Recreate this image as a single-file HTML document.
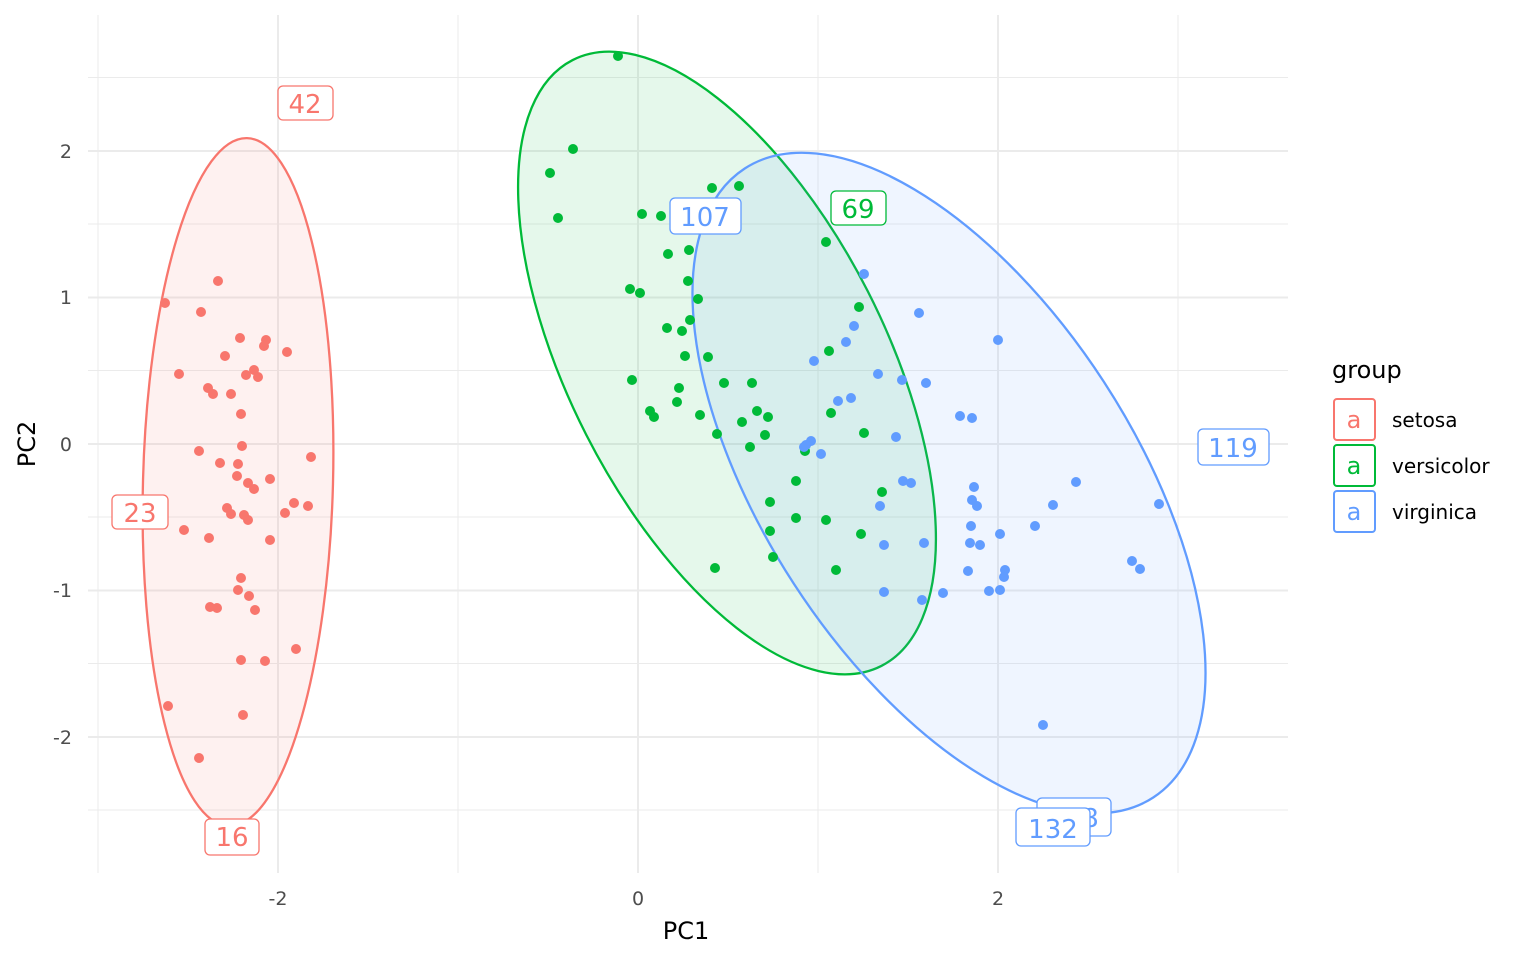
<!DOCTYPE html>
<html><head><meta charset="utf-8"><style>body{margin:0;background:#fff}svg{display:block}text{font-family:"DejaVu Sans","Liberation Sans",sans-serif}</style></head><body>
<svg width="1536" height="960" xmlns="http://www.w3.org/2000/svg">
<g stroke="#ebebeb" stroke-width="1">
<line x1="98" y1="15" x2="98" y2="873"/><line x1="458" y1="15" x2="458" y2="873"/><line x1="818" y1="15" x2="818" y2="873"/><line x1="1178" y1="15" x2="1178" y2="873"/>
<line x1="88" y1="77.5" x2="1288" y2="77.5"/><line x1="88" y1="224" x2="1288" y2="224"/><line x1="88" y1="370.5" x2="1288" y2="370.5"/><line x1="88" y1="517" x2="1288" y2="517"/><line x1="88" y1="663.5" x2="1288" y2="663.5"/><line x1="88" y1="810" x2="1288" y2="810"/>
</g>
<g stroke="#ebebeb" stroke-width="2">
<line x1="278" y1="15" x2="278" y2="873"/><line x1="638" y1="15" x2="638" y2="873"/><line x1="998" y1="15" x2="998" y2="873"/>
<line x1="88" y1="151" x2="1288" y2="151"/><line x1="88" y1="297.5" x2="1288" y2="297.5"/><line x1="88" y1="444" x2="1288" y2="444"/><line x1="88" y1="590.5" x2="1288" y2="590.5"/><line x1="88" y1="737" x2="1288" y2="737"/>
</g>
<ellipse cx="238" cy="482" rx="95" ry="344" transform="rotate(1.5 238 482)" fill="#F8766D" fill-opacity="0.1" stroke="#F8766D" stroke-width="2.3"/>
<ellipse cx="727" cy="363" rx="340" ry="158" transform="rotate(63 727 363)" fill="#00BA38" fill-opacity="0.1" stroke="#00BA38" stroke-width="2.3"/>
<ellipse cx="949" cy="483" rx="375" ry="185" transform="rotate(57 949 483)" fill="#619CFF" fill-opacity="0.1" stroke="#619CFF" stroke-width="2.3"/>
<g fill="#F8766D" id="s"></g><g fill="#00BA38" id="v"></g><g fill="#619CFF" id="g"></g>
<g font-size="26" text-anchor="middle" stroke-width="1.3">
<rect x="278" y="86" width="55" height="34" rx="5" fill="#fff" stroke="#F8766D"/><text x="305" y="113" fill="#F8766D">42</text>
<rect x="112" y="495" width="56" height="34" rx="5" fill="#fff" stroke="#F8766D"/><text x="140" y="522" fill="#F8766D">23</text>
<rect x="205" y="819" width="54" height="36" rx="5" fill="#fff" stroke="#F8766D"/><text x="232" y="846" fill="#F8766D">16</text>
<rect x="831" y="191" width="55" height="34" rx="5" fill="#fff" stroke="#00BA38"/><text x="858" y="218" fill="#00BA38">69</text>
<rect x="670" y="198" width="71" height="36" rx="5" fill="#fff" stroke="#619CFF"/><text x="705" y="226" fill="#619CFF">107</text>
<rect x="1198" y="429" width="71" height="36" rx="5" fill="#fff" stroke="#619CFF"/><text x="1233" y="457" fill="#619CFF">119</text>
<rect x="1037" y="798" width="74" height="38" rx="5" fill="#fff" stroke="#619CFF"/><text x="1074" y="827" fill="#619CFF">118</text>
<rect x="1016" y="808" width="74" height="38" rx="5" fill="#fff" stroke="#619CFF"/><text x="1053" y="838" fill="#619CFF">132</text>
</g>
<g font-size="19" fill="#4d4d4d">
<g text-anchor="middle"><text x="278" y="905">-2</text><text x="638" y="905">0</text><text x="998" y="905">2</text></g>
<g text-anchor="end"><text x="72" y="158">2</text><text x="72" y="304">1</text><text x="72" y="451">0</text><text x="72" y="597">-1</text><text x="72" y="744">-2</text></g>
</g>
<text x="686" y="939" font-size="24" text-anchor="middle">PC1</text>
<text transform="translate(35 444) rotate(-90)" font-size="24" text-anchor="middle">PC2</text>
<text x="1332" y="378" font-size="24">group</text>
<g stroke-width="2" font-size="24" text-anchor="middle">
<rect x="1334" y="399" width="41" height="41" rx="3" fill="#fff" stroke="#F8766D"/><text x="1354" y="428" fill="#F8766D">a</text>
<rect x="1334" y="445" width="41" height="41" rx="3" fill="#fff" stroke="#00BA38"/><text x="1354" y="474" fill="#00BA38">a</text>
<rect x="1334" y="491" width="41" height="41" rx="3" fill="#fff" stroke="#619CFF"/><text x="1354" y="520" fill="#619CFF">a</text>
</g>
<g font-size="20"><text x="1392" y="427">setosa</text><text x="1392" y="473">versicolor</text><text x="1392" y="519">virginica</text></g>
<script>
var d={s:[[165,303],[218,281],[201,312],[179,374],[225,356],[240,338],[266,340],[264,346],[287,352],[208,388],[213,394],[231,394],[246,375],[254,370],[258,377],[241,414],[242,446],[199,451],[220,463],[238,464],[237,476],[270,479],[248,483],[254,489],[311,457],[294,503],[285,513],[308,506],[227,508],[231,514],[244,515],[248,520],[184,530],[209,538],[270,540],[241,578],[238,590],[249,596],[210,607],[217,608],[255,610],[296,649],[241,660],[265,661],[168,706],[243,715],[199,758]],
v:[[618,56],[573,149],[550,173],[558,218],[739,186],[712,188],[642,214],[661,216],[826,242],[668,254],[689,250],[688,281],[630,289],[640,293],[698,299],[690,320],[667,328],[682,331],[859,307],[829,351],[685,356],[708,357],[632,380],[724,383],[752,383],[679,388],[650,411],[654,417],[677,402],[700,415],[757,411],[768,417],[831,413],[742,422],[717,434],[765,435],[864,433],[750,447],[805,451],[882,492],[796,481],[770,502],[796,518],[826,520],[861,534],[770,531],[773,557],[715,568],[836,570]],
g:[[864,274],[919,313],[854,326],[846,342],[851,398],[998,340],[814,361],[878,374],[902,380],[926,383],[960,416],[972,418],[1043,725],[1076,482],[1053,505],[1035,526],[1159,504],[1132,561],[1140,569],[1000,534],[1005,570],[1004,577],[968,571],[980,545],[970,543],[1000,590],[989,591],[922,600],[943,593],[884,592],[924,543],[884,545],[880,506],[903,481],[911,483],[974,487],[972,500],[977,506],[971,526],[896,437],[838,401],[821,454],[804,447],[811,441],[806,445]]};
for(var k in d){var g=document.getElementById(k);d[k].forEach(function(p){var c=document.createElementNS("http://www.w3.org/2000/svg","circle");c.setAttribute("cx",p[0]);c.setAttribute("cy",p[1]);c.setAttribute("r",5);g.appendChild(c);});}
</script>
</svg></body></html>
